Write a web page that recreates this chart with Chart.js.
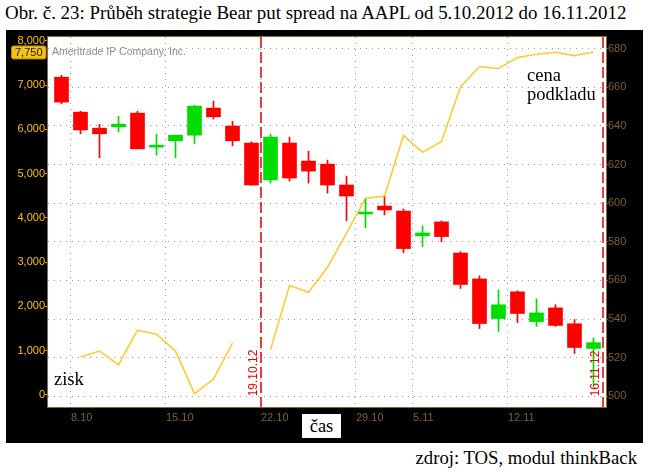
<!DOCTYPE html>
<html>
<head>
<meta charset="utf-8">
<script src="https://cdn.jsdelivr.net/npm/chart.js@4"></script>
<style>
html,body{margin:0;padding:0;background:#fff;width:648px;height:474px;overflow:hidden;}
body{position:relative;font-family:'Liberation Serif','Times New Roman',serif;}
.t{position:absolute;white-space:nowrap;line-height:1;color:#000;}
#panel{position:absolute;left:6px;top:30px;width:637px;height:413px;background:#000;}
#c{position:absolute;left:0;top:0;}
#casbox{position:absolute;left:302px;top:414px;width:39px;height:24px;background:#fff;}
</style>
</head>
<body>
<div class="t" id="title" style="left:5px;top:4.2px;font-size:18.9px;">Obr. č. 23: Průběh strategie Bear put spread na AAPL od 5.10.2012 do 16.11.2012</div>
<div id="panel"><canvas id="c" width="637" height="413"></canvas></div>
<div class="t" style="left:54px;top:369.5px;font-size:18.5px;">zisk</div>
<div class="t" style="left:527px;top:65.5px;font-size:18.5px;">cena</div>
<div class="t" style="left:527px;top:84.5px;font-size:18.5px;">podkladu</div>
<div id="casbox"></div>
<div class="t" style="left:302px;width:39px;text-align:center;top:416.5px;font-size:18.5px;">čas</div>
<div class="t" style="right:11px;top:449.3px;font-size:18.7px;">zdroj: TOS, modul thinkBack</div>
<script>
// ---- data ----
const days = ['5.10','8.10','9.10','10.10','11.10','12.10','15.10','16.10','17.10','18.10','19.10',
  '22.10','23.10','24.10','25.10','26.10','31.10','1.11','2.11','5.11','6.11','7.11','8.11','9.11',
  '12.11','13.11','14.11','15.11','16.11'];
const openP  = [665.2,647.1,638.8,639.5,646.6,629.0,632.3,635.2,649.2,639.9,631.1,612.0,631.1,621.8,620.2,609.4,594.4,598.5,595.9,583.1,590.3,574.2,560.8,540.3,554.1,538.7,545.8,537.6,524.8];
const highP  = [666.2,647.6,640.9,645.0,647.6,635.7,635.2,650.7,652.8,642.4,631.8,635.7,634.2,626.9,622.3,614.0,602.1,603.3,597.0,588.2,590.8,574.9,562.4,555.1,554.6,550.5,547.4,539.8,530.3];
const lowP   = [651.4,635.9,623.5,636.9,628.1,624.9,623.5,630.7,643.5,629.7,609.2,610.4,611.4,610.4,605.2,590.8,587.2,593.9,574.4,577.5,580.0,555.8,535.1,533.6,538.2,536.2,536.2,522.2,505.8];
const closeP = [652.3,637.9,635.9,640.9,628.1,630.0,635.2,650.2,644.7,632.3,609.4,634.2,613.0,616.6,609.4,603.7,595.4,596.5,576.5,584.6,582.7,557.9,537.7,547.4,542.9,543.2,536.7,525.3,527.8];
const profit = [null,851,986,677,1460,1370,986,23,354,1167,null,1016,2467,2318,2883,3650,4440,4492,5862,5479,5727,6960,7420,7375,7623,7698,7743,7668,7750];
const weekFirstDays = ['8.10','15.10','22.10','31.10','5.11','12.11'];
const weekLabels = ['8.10','15.10','22.10','29.10','5.11','12.11'];
const leftTicks = [0,1000,2000,3000,4000,5000,6000,7000,8000];
const rightTicks = [500,520,540,560,580,600,620,640,660,680];
const markerDays = ['19.10','16.11'];
const markerLabels = ['19.10.12','16.11.12'];

const UP = '#00dd00', DOWN = '#ff0000';
const candleColors = openP.map((o,i)=> closeP[i] >= o ? UP : DOWN);
const weekPos = weekFirstDays.map(d => days.indexOf(d) - 0.5);

const frame = {
  id: 'frame',
  beforeDraw(c) {
    const {ctx, chartArea: a} = c;
    ctx.save();
    ctx.fillStyle = '#fff';
    ctx.fillRect(a.left, a.top, a.right - a.left, a.bottom - a.top);
    ctx.fillStyle = '#8c8c8c';
    ctx.font = '10.5px "Liberation Sans", Arial, sans-serif';
    ctx.textBaseline = 'alphabetic';
    ctx.textAlign = 'left';
    ctx.fillText('Ameritrade IP Company, Inc.', a.left + 4, a.top + 18);
    ctx.restore();
  },
  afterDatasetsDraw(c) {
    const {ctx, chartArea: a, scales} = c;
    const x = scales.x, yR = scales.yR;
    ctx.save();
    markerDays.forEach((d, k) => {
      const px = x.getPixelForValue(days.indexOf(d) + 0.5);
      ctx.strokeStyle = '#e00000';
      ctx.lineWidth = 1.5;
      ctx.setLineDash([11, 4]);
      ctx.beginPath();
      ctx.moveTo(px, a.top);
      ctx.lineTo(px, a.bottom);
      ctx.stroke();
      ctx.setLineDash([]);
      ctx.save();
      ctx.translate(px - 3.5, yR.getPixelForValue(rightTicks[0]));
      ctx.rotate(-Math.PI / 2);
      ctx.fillStyle = '#f00000';
      ctx.font = '12px "Liberation Sans", Arial, sans-serif';
      ctx.textAlign = 'left';
      ctx.textBaseline = 'alphabetic';
      ctx.fillText(markerLabels[k], 0, 0);
      ctx.restore();
    });
    ctx.restore();
  },
  afterDraw(c) {
    const {ctx, chartArea: a, scales} = c;
    ctx.save();
    ctx.strokeStyle = '#8a6a30';
    ctx.lineWidth = 1;
    ctx.strokeRect(a.left - 0.5, a.top - 0.5, a.right - a.left + 1, a.bottom - a.top + 1);
    // last-value box on left axis
    const last = profit[profit.length - 1];
    const py = scales.yL.getPixelForValue(last);
    const bx = 5, bw = 34.5, bh = 13;
    ctx.fillStyle = '#f2c21a';
    ctx.strokeStyle = '#b88a00';
    ctx.beginPath();
    if (ctx.roundRect) ctx.roundRect(bx + 0.5, py - bh / 2 + 0.5, bw, bh, 2); else ctx.rect(bx + 0.5, py - bh / 2 + 0.5, bw, bh);
    ctx.fill();
    ctx.stroke();
    ctx.fillStyle = '#2a1c00';
    ctx.font = '11px "Liberation Sans", Arial, sans-serif';
    ctx.textAlign = 'center';
    ctx.textBaseline = 'middle';
    ctx.fillText(last.toLocaleString('en-US'), bx + 0.5 + bw / 2, py + 1);
    ctx.restore();
  }
};

const tickFont = {family: '"Liberation Sans", Arial, sans-serif', size: 11};

new Chart(document.getElementById('c'), {
  data: {
    datasets: [
      {
        type: 'bar', label: 'body', yAxisID: 'yR', order: 0, grouped: false,
        data: days.map((d, i) => ({x: i, y: [openP[i], closeP[i]]})),
        backgroundColor: candleColors, borderWidth: 0,
        barPercentage: 1, categoryPercentage: 1, maxBarThickness: 14
      },
      {
        type: 'bar', label: 'wick', yAxisID: 'yR', order: 1, grouped: false,
        data: days.map((d, i) => ({x: i, y: [lowP[i], highP[i]]})),
        backgroundColor: candleColors, borderWidth: 0,
        barPercentage: 1, categoryPercentage: 1, maxBarThickness: 1
      },
      {
        type: 'line', label: 'zisk', yAxisID: 'yL', order: 2,
        data: days.map((d, i) => ({x: i, y: profit[i]})),
        borderColor: '#ffcc33', borderWidth: 1.6, pointRadius: 0, tension: 0, spanGaps: false, fill: false
      }
    ]
  },
  options: {
    responsive: false,
    animation: false,
    devicePixelRatio: 1,
    layout: {padding: {top: 7, left: 0, right: 0, bottom: 0}},
    plugins: {legend: {display: false}, tooltip: {enabled: false}},
    scales: {
      x: {
        type: 'linear', position: 'bottom', min: -0.7105, max: 28.658, offset: false,
        afterBuildTicks: s => { s.ticks = weekPos.map(v => ({value: v})); },
        afterFit: s => { s.height = 36; },
        ticks: {callback: (v, i) => weekLabels[i], align: 'start', color: '#80602a', font: tickFont, padding: 4, maxRotation: 0, autoSkip: false},
        grid: {color: '#9a9a9a', lineWidth: 1, drawTicks: false, offset: false},
        border: {display: false, dash: [1, 5]}
      },
      yL: {
        type: 'linear', position: 'left', min: -278, max: 8088,
        afterBuildTicks: s => { s.ticks = leftTicks.map(v => ({value: v})); },
        afterFit: s => { s.width = 42; },
        ticks: {callback: v => v.toLocaleString('en-US'), color: '#ffc400', font: tickFont, padding: 0},
        grid: {drawOnChartArea: false, color: '#e8a000', tickLength: 3},
        border: {display: false}
      },
      yR: {
        type: 'linear', position: 'right', min: 494.5, max: 686,
        afterBuildTicks: s => { s.ticks = rightTicks.map(v => ({value: v})); },
        afterFit: s => { s.width = 37; },
        ticks: {color: '#80602a', font: tickFont, padding: 0},
        grid: {color: '#9a9a9a', lineWidth: 1, tickLength: 2, tickColor: '#80602a'},
        border: {display: false, dash: [1, 5]}
      }
    }
  },
  plugins: [frame]
});
</script>
</body>
</html>
